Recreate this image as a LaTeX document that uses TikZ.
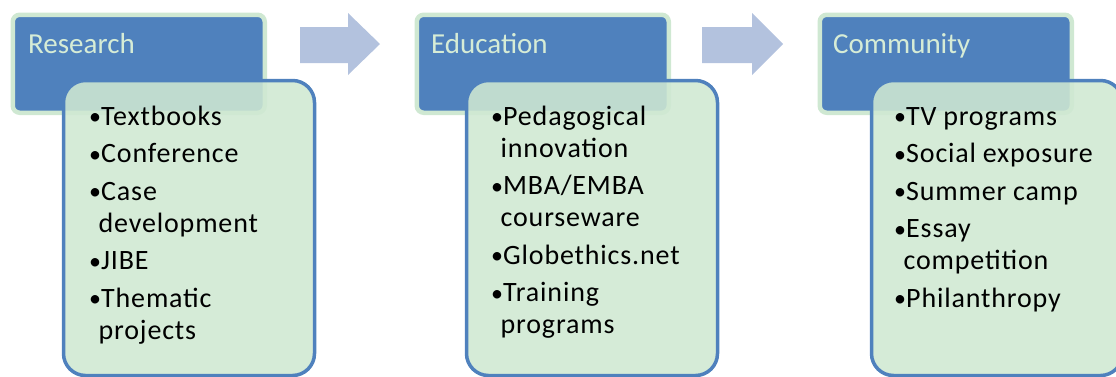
\documentclass[tikz,border=0pt]{standalone}
\usepackage{fontspec}
\setmainfont{Carlito}
\newfontfamily\itemfont{Carlito}[LetterSpace=3]
\definecolor{hdrblue}{HTML}{4F81BD}
\definecolor{paleleaf}{HTML}{CFE8D2}
\definecolor{hdrtext}{HTML}{D6ECD6}
\definecolor{arrowblue}{HTML}{B3C2DE}
\newcommand{\bul}[1]{\noindent\hangindent=9.5pt\hangafter=1\makebox[12pt][l]{\raisebox{0.5pt}{\fontsize{24}{24}\selectfont•}}#1\par}
\tikzset{
  header/.style={draw=paleleaf, line width=4.5pt, fill=hdrblue, rounded corners=7pt,
    anchor=north west, minimum width=252pt, minimum height=98pt, inner sep=0pt},
  headtext/.style={anchor=base west, inner sep=0pt, text=hdrtext,
    font=\fontsize{29}{34}\selectfont},
  card/.style={draw=hdrblue, line width=3.5pt, fill=paleleaf, fill opacity=0.88,
    draw opacity=1, text opacity=1, rounded corners=22pt, anchor=north west,
    minimum width=251pt, minimum height=295pt, inner sep=0pt},
  itemlist/.style={anchor=base west, inner sep=0pt, text width=215pt, align=left,
    font=\itemfont\fontsize{28}{32}\selectfont,
    execute at begin node={\parskip=5.5pt\relax\spaceskip=0.24em\relax}},
  flowarrow/.style={fill=arrowblue, draw=none}
}
\begin{document}
\begin{tikzpicture}[x=1pt, y=-1pt]
\useasboundingbox (0,0) rectangle (1116,376);

% Research column
\node[header] (hR) at (10.5,12.5) {};
\node[headtext] (tR) at (28,53) {Research};
\node[card] (cR) at (61.75,78.75) {};
\node[itemlist] (lR) at (89,125) {%
  \bul{Textbooks}\bul{Conference}\bul{Case\newline development}%
  \bul{JIBE}\bul{Thematic\newline projects}};

% Education column
\node[header] (hE) at (414.5,12.5) {};
\node[headtext] (tE) at (431,53) {Education};
\node[card] (cE) at (464.75,78.75) {};
\node[itemlist] (lE) at (491,125) {%
  \bul{Pedagogical\newline innovation}\bul{MBA/EMBA\newline courseware}%
  \bul{Globethics.net}\bul{Training\newline programs}};

% Community column
\node[header] (hC) at (817.5,12.5) {};
\node[headtext] (tC) at (833,53) {Community};
\node[card] (cC) at (869.75,78.75) {};
\node[itemlist] (lC) at (894,125) {%
  \bul{TV programs}\bul{Social exposure}\bul{Summer camp}%
  \bul{Essay\newline competition}\bul{Philanthropy}};

% block arrows between the columns
\fill[flowarrow] (300,27) -- (348,27) -- (348,13) -- (380,44) -- (348,75) -- (348,63) -- (300,63) -- cycle;
\fill[flowarrow] (702,27) -- (752,27) -- (752,13) -- (783,44) -- (752,75) -- (752,63) -- (702,63) -- cycle;
\end{tikzpicture}
\end{document}
